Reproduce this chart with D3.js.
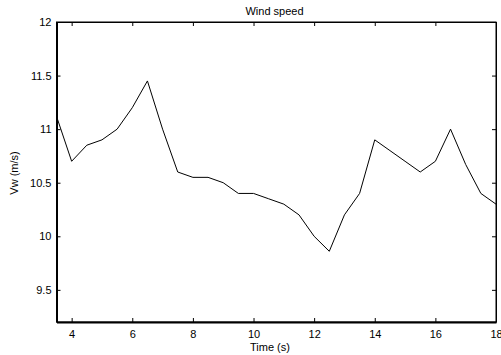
<!DOCTYPE html>
<html><head><meta charset="utf-8">
<script src="https://cdn.jsdelivr.net/npm/d3@7"></script>
<style>html,body{margin:0;padding:0;background:#fff;}svg{display:block;}</style>
</head><body>
<script>
const times = [3.5,4,4.5,5,5.5,6,6.5,7,7.5,8,8.5,9,9.5,10,10.5,11,11.5,12,12.5,13,13.5,14,14.5,15,15.5,16,16.5,17,17.5,18];
const windSpeed = [11.12,10.7,10.85,10.9,11.0,11.2,11.45,11.0,10.6,10.55,10.55,10.5,10.4,10.4,10.35,10.3,10.2,10.0,9.86,10.2,10.4,10.9,10.8,10.7,10.6,10.7,11.0,10.67,10.4,10.3];
const xTicks = [4,6,8,10,12,14,16,18];
const yTicks = [9.5,10,10.5,11,11.5,12];
const title = "Wind speed", xLabel = "Time (s)", yLabel = "Vw (m/s)";

const W = 501, H = 355;
const L = 56.5, R = 496, T = 22, B = 322;
const font = "Liberation Sans, Arial, Helvetica, sans-serif";
const svg = d3.select("body").append("svg").attr("width", W).attr("height", H);
const x = d3.scaleLinear().domain([3.5,18]).range([L,R]);
const y = d3.scaleLinear().domain([9.2,12]).range([B,T]);

// box
svg.append("rect").attr("x",L).attr("y",T).attr("width",R-L).attr("height",B-T)
  .attr("fill","none").attr("stroke","#000").attr("stroke-width",1);

const fmt = d => String(d);
const xb = svg.append("g").attr("transform",`translate(0,${B})`)
  .call(d3.axisBottom(x).tickValues(xTicks).tickSizeInner(-4).tickSizeOuter(0).tickPadding(8).tickFormat(fmt));
const xt = svg.append("g").attr("transform",`translate(0,${T})`)
  .call(d3.axisTop(x).tickValues(xTicks).tickSizeInner(-4).tickSizeOuter(0).tickFormat(""));
const yl = svg.append("g").attr("transform",`translate(${L},0)`)
  .call(d3.axisLeft(y).tickValues(yTicks).tickSizeInner(-4).tickSizeOuter(0).tickPadding(5).tickFormat(fmt));
const yr = svg.append("g").attr("transform",`translate(${R},0)`)
  .call(d3.axisRight(y).tickValues(yTicks).tickSizeInner(-4).tickSizeOuter(0).tickFormat(""));
[xb,xt,yl,yr].forEach(g=>{
  g.selectAll("text").attr("font-family",font).attr("font-size",11).attr("fill","#000");
  g.selectAll("line").attr("stroke","#000");
});
xb.select(".domain").attr("stroke","#000").attr("stroke-width",2);
yl.select(".domain").attr("stroke","#000").attr("stroke-width",2);
xt.select(".domain").attr("stroke","#000");
yr.select(".domain").attr("stroke","#000");

// line
const data = times.map((t,i)=>({t, v: windSpeed[i]}));
svg.append("path").datum(data)
  .attr("fill","none").attr("stroke","#000").attr("stroke-width",1)
  .attr("d", d3.line().x(d=>x(d.t)).y(d=>y(d.v)));

svg.append("text").attr("x",274.5).attr("y",15).attr("text-anchor","middle")
  .attr("font-family",font).attr("font-size",11).text(title);
svg.append("text").attr("x",270).attr("y",351).attr("text-anchor","middle")
  .attr("font-family",font).attr("font-size",11).text(xLabel);
svg.append("text").attr("transform",`translate(18,173) rotate(-90)`).attr("text-anchor","middle")
  .attr("font-family",font).attr("font-size",11).text(yLabel);
</script>
</body></html>
